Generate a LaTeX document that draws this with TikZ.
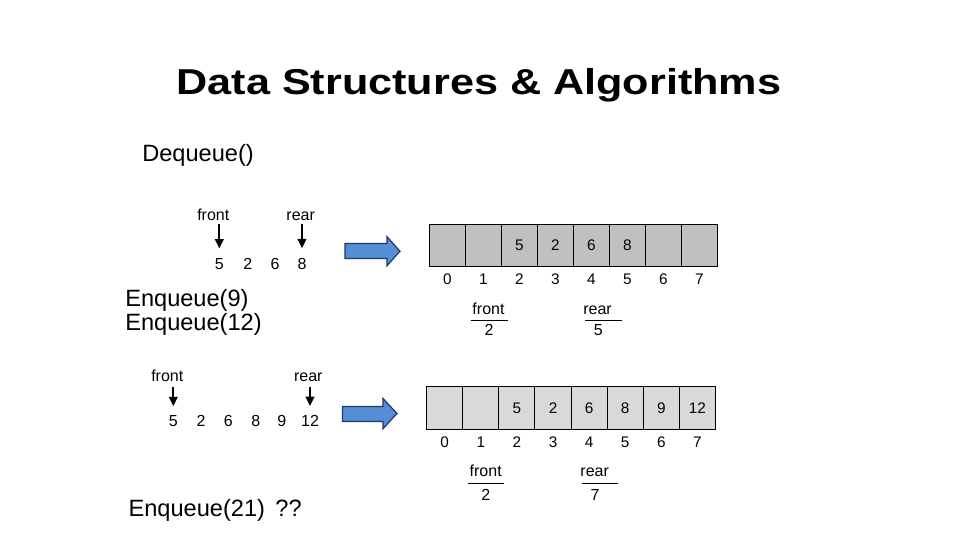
\documentclass[tikz,border=0pt]{standalone}
\usepackage{fontspec}
\setmainfont{Liberation Sans}
\newfontfamily\titlefont{Liberation Sans}[FakeStretch=1.2]
\usetikzlibrary{arrows.meta}
\definecolor{cellA}{HTML}{C0C0C0}
\definecolor{cellB}{HTML}{D9D9D9}
\definecolor{arrowblue}{RGB}{85,142,213}
\definecolor{arrowedge}{RGB}{31,56,100}
\tikzset{
  lbl/.style={inner sep=0pt, anchor=base, font=\fontsize{12}{14}\selectfont},
  big/.style={inner sep=0pt, anchor=base west, font=\fontsize{17.7}{20}\selectfont},
  cellbox/.style={draw, line width=0.75pt, minimum width=27pt, minimum height=31.5pt, inner sep=0pt, font=\fontsize{11.5}{13}\selectfont},
  idx/.style={inner sep=0pt, anchor=base, font=\fontsize{11.5}{13}\selectfont},
  ptr/.style={-{Triangle[width=6.5pt,length=7pt]}, line width=1.4pt},
  bluearrow/.style={fill=arrowblue, draw=arrowedge, line width=0.9pt, line join=miter},
  uline/.style={line width=0.75pt}
}
\begin{document}
\begin{tikzpicture}[x=0.75pt, y=-0.75pt]
\useasboundingbox (0,0) rectangle (960,540);

% title
\node[inner sep=0pt, anchor=base, font=\titlefont\bfseries\fontsize{27}{32}\selectfont] (title) at (479,94) {Data Structures \& Algorithms};

% left texts
\node[big] (deq) at (142,161.7) {Dequeue()};
\node[big] (enq9) at (125,306.7) {Enqueue(9)};
\node[big] (enq12) at (125,330) {Enqueue(12)};
\node[big] (enq21) at (128.3,516.7) {Enqueue(21) \,??};

% top-left queue
\node[lbl] (f1) at (213.3,220) {front};
\node[lbl] (r1) at (300.7,220) {rear};
\node[lbl] (a1) at (219.3,269) {5};
\node[lbl] (a2) at (247.7,269) {2};
\node[lbl] (a3) at (275,269) {6};
\node[lbl] (a4) at (302,269) {8};
\draw[ptr, shorten <=3pt, shorten >=7pt] (f1.south -| a1.north) -- (a1.north);
\draw[ptr, shorten <=3pt, shorten >=7pt] (r1.south -| a4.north) -- (a4.north);

% bottom-left queue
\node[lbl] (f2) at (167.3,381.7) {front};
\node[lbl] (r2) at (308.3,381.7) {rear};
\node[lbl] (b1) at (173.3,426.7) {5};
\node[lbl] (b2) at (201,426.7) {2};
\node[lbl] (b3) at (228.3,426.7) {6};
\node[lbl] (b4) at (255.7,426.7) {8};
\node[lbl] (b5) at (281.7,426.7) {9};
\node[lbl] (b6) at (310,426.7) {12};
\draw[ptr, shorten <=3.5pt, shorten >=7pt] (f2.south -| b1.north) -- (b1.north);
\draw[ptr, shorten <=3.5pt, shorten >=7pt] (r2.south -| b6.north) -- (b6.north);

% blue arrows
\draw[bluearrow] (345,243.5) -- (387,243.5) -- (387,236.7) -- (400,251.2) -- (387,265.7) -- (387,258.5) -- (345,258.5) -- cycle;
\draw[bluearrow] (342.5,406.5) -- (383,406.5) -- (383,398.5) -- (397,413.5) -- (383,428.7) -- (383,421.5) -- (342.5,421.5) -- cycle;

% top array
\foreach \v [count=\i from 0] in {{},{},5,2,6,8,{},{}} {
  \node[cellbox, fill=cellA] (t\i) at ({429.3+36*\i+18},245.2) {\v};
  \node[idx] (ti\i) at ({429.3+36*\i+18},284) {\i};
}
\node[lbl] (tf) at (488.5,314.3) {front};
\draw[uline] (470.7,320.3) -- (507.7,320.3);
\node[lbl] (tfv) at (489,335.7) {2};
\node[lbl] (tr) at (597.5,314.3) {rear};
\draw[uline] (585,320.3) -- (622,320.3);
\node[lbl] (trv) at (598.3,335.7) {5};

% bottom array
\foreach \v [count=\i from 0] in {{},{},5,2,6,8,9,12} {
  \node[cellbox, fill=cellB, minimum width=27.1pt, minimum height=31.8pt] (u\i) at ({426.7+36.1*\i+18.05},408) {\v};
  \node[idx] (ui\i) at ({426.7+36.1*\i+18.05},447.7) {\i};
}
\node[lbl] (uf) at (485.7,476.7) {front};
\draw[uline] (467.7,483.5) -- (504,483.5);
\node[lbl] (ufv) at (485.7,500) {2};
\node[lbl] (ur) at (594.7,476.7) {rear};
\draw[uline] (582,483.5) -- (618.3,483.5);
\node[lbl] (urv) at (595,500) {7};
\end{tikzpicture}
\end{document}
